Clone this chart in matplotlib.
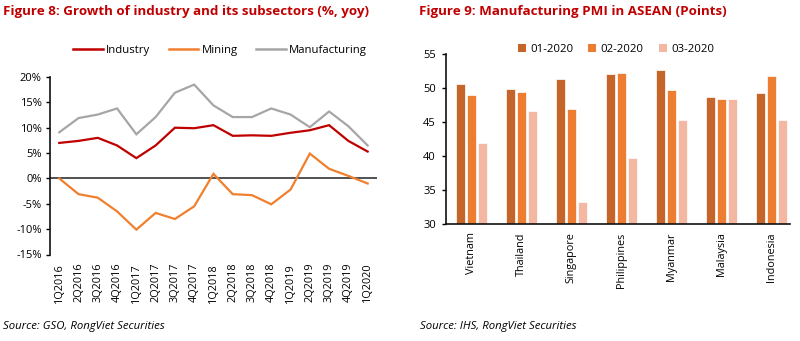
import matplotlib
matplotlib.use("Agg")
import matplotlib.pyplot as plt
from matplotlib.lines import Line2D
from matplotlib.patches import Patch

plt.rcParams['font.family'] = ['Open Sans', 'DejaVu Sans']

# ---- Figure 8 data: growth, % yoy ----
quarters = ['1Q2016', '2Q2016', '3Q2016', '4Q2016', '1Q2017', '2Q2017', '3Q2017',
            '4Q2017', '1Q2018', '2Q2018', '3Q2018', '4Q2018', '1Q2019', '2Q2019',
            '3Q2019', '4Q2019', '1Q2020']
industry = [7.0, 7.4, 8.0, 6.5, 4.0, 6.5, 10.0, 9.9, 10.5, 8.4, 8.5, 8.4, 9.0, 9.5,
            10.5, 7.4, 5.3]
mining = [0.0, -3.1, -3.8, -6.5, -10.1, -6.8, -8.0, -5.5, 0.9, -3.1, -3.3, -5.1, -2.2,
          4.9, 1.9, 0.5, -1.0]
manufacturing = [9.1, 11.9, 12.6, 13.8, 8.7, 12.1, 16.9, 18.5, 14.4, 12.1, 12.1, 13.8,
                 12.6, 10.1, 13.2, 10.3, 6.5]
pct_ticks = [-15, -10, -5, 0, 5, 10, 15, 20]

# ---- Figure 9 data: manufacturing PMI ----
countries = ['Vietnam', 'Thailand', 'Singapore', 'Philippines', 'Myanmar', 'Malaysia',
             'Indonesia']
pmi_jan = [50.6, 49.9, 51.4, 52.1, 52.7, 48.8, 49.3]
pmi_feb = [49.0, 49.5, 47.0, 52.3, 49.8, 48.5, 51.9]
pmi_mar = [41.9, 46.7, 33.3, 39.7, 45.3, 48.4, 45.3]
month_labels = ['01-2020', '02-2020', '03-2020']
pmi_ticks = [30, 35, 40, 45, 50, 55]

RED_TITLE = '#C00000'
C_IND = '#C00000'
C_MIN = '#F07F2E'
C_MAN = '#A6A6A6'
BAR_COLORS = ['#C5652A', '#ED7D31', '#F4B7A2']

fig = plt.figure(figsize=(8, 3.41), dpi=100)
W, H = 800, 341


def ax_rect(x0, x1, ytop, ybot):
    return [x0 / W, 1 - ybot / H, (x1 - x0) / W, (ybot - ytop) / H]


# ---------------- Figure 8 ----------------
ax1 = fig.add_axes(ax_rect(50, 376.7, 77, 254.5))
x = list(range(len(quarters)))
ax1.plot(x, manufacturing, color=C_MAN, lw=1.6, solid_joinstyle='miter')
ax1.plot(x, mining, color=C_MIN, lw=1.6, solid_joinstyle='miter')
ax1.plot(x, industry, color=C_IND, lw=1.6, solid_joinstyle='miter')
ax1.axhline(0, color='#222222', lw=1.1, zorder=1)
ax1.set_xlim(-0.48, len(quarters) - 1 + 0.47)
ax1.set_ylim(-15, 20)
ax1.set_yticks(pct_ticks)
ax1.set_yticklabels([f'{v}%' for v in pct_ticks], fontsize=8)
ax1.set_xticks(x)
ax1.set_xticklabels(quarters, rotation=90, fontsize=7.8)
ax1.tick_params(axis='x', length=0, pad=6)
ax1.tick_params(axis='y', length=3, width=1, direction='out', pad=3)
for s in ['top', 'right', 'bottom']:
    ax1.spines[s].set_visible(False)
ax1.spines['left'].set_linewidth(1.2)
ax1.spines['left'].set_color('#111111')

handles1 = [Line2D([], [], color=C_IND, lw=1.8),
            Line2D([], [], color=C_MIN, lw=1.8),
            Line2D([], [], color=C_MAN, lw=1.8)]
fig.legend(handles1, ['Industry', 'Mining', 'Manufacturing'], loc='center',
           bbox_to_anchor=(220 / W, 1 - 50.5 / H), ncol=3, frameon=False,
           fontsize=8.2, handlelength=2.6, handletextpad=0.3, columnspacing=1.6)

fig.text(3 / W, 1 - 12 / H, 'Figure 8: Growth of industry and its subsectors (%, yoy)',
         color=RED_TITLE, fontsize=9.6, fontweight='bold', va='center', ha='left')
fig.text(3 / W, 1 - 327 / H, 'Source: GSO, RongViet Securities', fontsize=8.2,
         style='italic', va='center', ha='left')

# ---------------- Figure 9 ----------------
ax2 = fig.add_axes(ax_rect(445.7, 790, 54.5, 224))
xc = list(range(len(countries)))
step, bw = 0.22, 0.18
for i, (vals, col, lab) in enumerate(zip([pmi_jan, pmi_feb, pmi_mar], BAR_COLORS,
                                         month_labels)):
    pos = [c + (i - 1) * step for c in xc]
    ax2.bar(pos, [v - 30 for v in vals], bottom=30, width=bw, color=col,
            edgecolor='white', linewidth=0.5, label=lab)
ax2.set_xlim(-0.52, len(countries) - 1 + 0.38)
ax2.set_ylim(30, 55)
ax2.set_yticks(pmi_ticks)
ax2.set_yticklabels([str(v) for v in pmi_ticks], fontsize=8)
ax2.set_xticks(xc)
ax2.set_xticklabels(countries, rotation=90, fontsize=7.8)
ax2.tick_params(axis='x', length=0, pad=6)
ax2.tick_params(axis='y', length=3, width=1, direction='out', pad=4)
for s in ['top', 'right']:
    ax2.spines[s].set_visible(False)
for s in ['left', 'bottom']:
    ax2.spines[s].set_linewidth(1.2)
    ax2.spines[s].set_color('#111111')

handles2 = [Patch(facecolor=c, edgecolor='none') for c in BAR_COLORS]
fig.legend(handles2, month_labels, loc='center', bbox_to_anchor=(616 / W, 1 - 49 / H),
           ncol=3, frameon=False, fontsize=8.2, handlelength=0.7, handleheight=0.7,
           handletextpad=0.4, columnspacing=1.3)

fig.text(419 / W, 1 - 12 / H, 'Figure 9: Manufacturing PMI in ASEAN (Points)',
         color=RED_TITLE, fontsize=9.6, fontweight='bold', va='center', ha='left')
fig.text(420 / W, 1 - 327 / H, 'Source: IHS, RongViet Securities', fontsize=8.2,
         style='italic', va='center', ha='left')

fig.savefig('out.png', dpi=100, facecolor='white')
